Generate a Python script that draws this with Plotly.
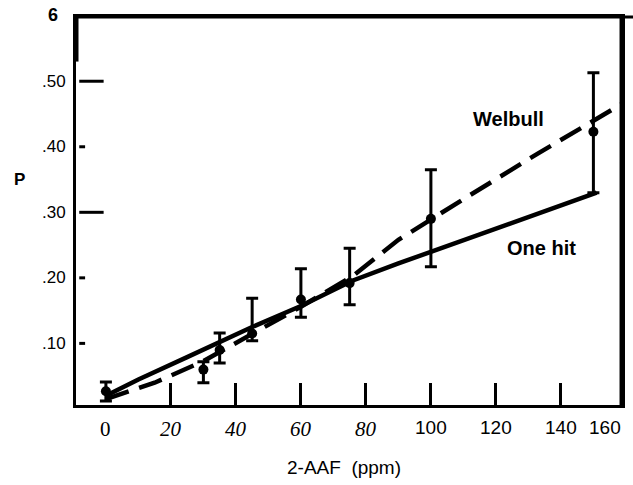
import plotly.graph_objects as go

# ---- data ----
dose = [0, 30, 35, 45, 60, 75, 100, 150]
p_obs = [0.027, 0.060, 0.090, 0.115, 0.167, 0.192, 0.290, 0.423]
p_hi = [0.041, 0.072, 0.116, 0.169, 0.214, 0.245, 0.365, 0.513]
p_lo = [0.012, 0.040, 0.070, 0.104, 0.140, 0.159, 0.217, 0.330]

onehit_x = [0, 10, 25, 45, 60, 76, 90, 110, 130, 151]
onehit_y = [0.020, 0.045, 0.079, 0.125, 0.157, 0.196, 0.222, 0.258, 0.293, 0.330]

weibull_x = [0, 15, 30, 45, 60, 76, 90, 110, 133, 159]
weibull_y = [0.015, 0.040, 0.073, 0.114, 0.156, 0.203, 0.258, 0.320, 0.390, 0.466]

xtick_vals = [20, 40, 60, 80, 100, 120, 140]
xlabel_pos = [0, 20, 40, 60, 80, 100, 120, 140, 153.5]
xlabel_txt = ["0", "20", "40", "60", "80", "100", "120", "140", "160"]
xlabel_italic = [False, True, True, True, True, False, False, False, False]

ytick_vals = [0.10, 0.20, 0.30, 0.40, 0.50]
ytick_txt = [".10", ".20", ".30", ".40", ".50"]
ytick_long = [False, False, True, False, True]

fig = go.Figure()

fig.add_trace(go.Scatter(x=onehit_x, y=onehit_y, mode="lines",
                         line=dict(color="black", width=4.5), showlegend=False))
fig.add_trace(go.Scatter(x=weibull_x, y=weibull_y, mode="lines",
                         line=dict(color="black", width=4.5, dash="24px,11px"),
                         showlegend=False))
fig.add_trace(go.Scatter(
    x=dose, y=p_obs, mode="markers",
    marker=dict(color="black", size=10),
    error_y=dict(type="data", symmetric=False,
                 array=[h - p for h, p in zip(p_hi, p_obs)],
                 arrayminus=[p - l for p, l in zip(p_obs, p_lo)],
                 color="black", thickness=3, width=6),
    showlegend=False))

XR = [-9.2, 158.8]
YR = [0.006, 0.598]

for pos, txt, it in zip(xlabel_pos, xlabel_txt, xlabel_italic):
    serif = it or txt == "0"
    fig.add_annotation(
        x=pos, y=-0.025, xref="x", yref="paper",
        text=f"<i>{txt}</i>" if it else txt, showarrow=False, yanchor="top",
        font=dict(family="Liberation Serif" if serif else "Liberation Sans",
                  size=21 if serif else 19, color="black"))
for v, t in zip(ytick_vals, ytick_txt):
    fig.add_annotation(
        x=-0.015, y=v, xref="paper", yref="y", text=t, showarrow=False,
        xanchor="right", font=dict(family="Liberation Sans", size=17, color="black"))

fig.add_annotation(x=-0.029, y=1.005, xref="paper", yref="paper", text="<b>6</b>",
                   showarrow=False, xanchor="right", yanchor="middle",
                   font=dict(family="Liberation Sans", size=18, color="black"))
fig.add_annotation(x=0.49, y=-0.13, xref="paper", yref="paper", text="2-AAF  (ppm)",
                   showarrow=False, yanchor="top",
                   font=dict(family="Liberation Sans", size=19, color="black"))
fig.add_annotation(x=-0.103, y=0.35, xref="paper", yref="y", text="<b>P</b>", showarrow=False,
                   xanchor="center", font=dict(family="Liberation Sans", size=17, color="black"))
fig.add_annotation(x=124, y=0.443, xref="x", yref="y", text="<b>Welbull</b>", showarrow=False,
                   font=dict(family="Liberation Sans", size=20, color="black"))
fig.add_annotation(x=134, y=0.246, xref="x", yref="y", text="<b>One hit</b>", showarrow=False,
                   font=dict(family="Liberation Sans", size=20, color="black"))

fig.update_layout(
    width=633, height=485, autosize=False,
    margin=dict(l=76, r=11, t=17, b=80),
    paper_bgcolor="white", plot_bgcolor="white",
    xaxis=dict(range=XR, showgrid=False, zeroline=False, automargin=False,
               showline=True, linecolor="black", linewidth=3, mirror=True,
               tickmode="array", tickvals=xtick_vals, ticks="inside",
               ticklen=22, tickwidth=3, tickcolor="black", showticklabels=False),
    yaxis=dict(range=YR, showgrid=False, zeroline=False, automargin=False,
               showline=True, linecolor="black", linewidth=3, mirror=True,
               tickmode="array", tickvals=[], showticklabels=False),
    showlegend=False,
)

# y axis tick marks (long and short)
for v, lng in zip(ytick_vals, ytick_long):
    fig.add_shape(type="line", xref="x", yref="y",
                  x0=XR[0] + 1.0, x1=XR[0] + (8.5 if lng else 2.8), y0=v, y1=v,
                  line=dict(color="black", width=3))

# frame: top rule (extending to the edge), right rule, thicker top-left segment
fig.add_shape(type="line", xref="paper", yref="paper", x0=0, x1=1.03, y0=1, y1=1,
              line=dict(color="black", width=3), layer="above")
fig.add_shape(type="line", xref="x", yref="y", x0=XR[1] - 0.3, x1=XR[1] - 0.3,
              y0=YR[0], y1=YR[1], line=dict(color="black", width=3), layer="above")
fig.add_shape(type="line", xref="paper", yref="y", x0=0, x1=0, y0=0.53, y1=YR[1],
              line=dict(color="black", width=5))

fig.write_html("out.html", post_script="document.body.style.margin='0';",
               config={"displayModeBar": False})
